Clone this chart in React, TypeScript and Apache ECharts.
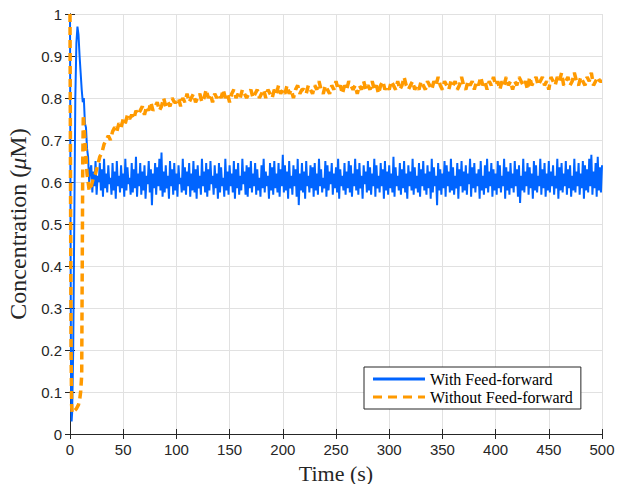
import React, { useEffect, useRef } from "react";
import * as echarts from "echarts";

// Transient part (time in s, concentration in µM)
const blueHeadT = [0, 0.5, 1, 1.5, 2, 3, 4, 5, 6, 7, 8, 9, 10, 11, 12, 13, 14, 15, 16, 17, 18, 19];
const blueHeadV = [1.0, 0.5, 0.1, 0.03, 0.05, 0.2, 0.5, 0.8, 0.93, 0.97, 0.95, 0.9, 0.86, 0.82, 0.79, 0.8, 0.74, 0.73, 0.68, 0.66, 0.6, 0.63];
const orangeHeadT = [0, 0.5, 1, 1.5, 2, 4, 6, 8, 9, 10, 11, 11.5, 12, 12.5, 13, 14, 15, 16, 17, 18, 19];
const orangeHeadV = [1.0, 0.6, 0.2, 0.07, 0.05, 0.055, 0.06, 0.07, 0.08, 0.1, 0.14, 0.4, 0.65, 0.76, 0.74, 0.7, 0.66, 0.62, 0.6, 0.58, 0.59];

// Steady part of "With Feed-forward", sampled every 1 s from t = 20 s to 500 s
const blueStart = 20;
const blueStep = 1;
const blueSteady = [
  0.640, 0.575, 0.625, 0.590, 0.650, 0.570, 0.615, 0.600, 0.645, 0.580,
  0.630, 0.565, 0.655, 0.585, 0.620, 0.575, 0.640, 0.595, 0.610, 0.570,
  0.645, 0.580, 0.625, 0.560, 0.650, 0.590, 0.615, 0.575, 0.640, 0.585,
  0.620, 0.565, 0.655, 0.580, 0.635, 0.595, 0.610, 0.570, 0.645, 0.575,
  0.630, 0.585, 0.660, 0.565, 0.620, 0.590, 0.645, 0.570, 0.625, 0.580,
  0.640, 0.560, 0.615, 0.595, 0.650, 0.575, 0.630, 0.545, 0.620, 0.585,
  0.645, 0.570, 0.635, 0.590, 0.655, 0.580, 0.670, 0.565, 0.625, 0.575,
  0.640, 0.585, 0.615, 0.560, 0.650, 0.590, 0.630, 0.570, 0.645, 0.580,
  0.620, 0.565, 0.640, 0.595, 0.610, 0.575, 0.655, 0.580, 0.635, 0.570,
  0.625, 0.590, 0.645, 0.565, 0.620, 0.580, 0.650, 0.575, 0.630, 0.560,
  0.640, 0.585, 0.615, 0.570, 0.655, 0.590, 0.625, 0.575, 0.645, 0.565,
  0.630, 0.580, 0.650, 0.595, 0.615, 0.570, 0.640, 0.585, 0.620, 0.560,
  0.645, 0.575, 0.635, 0.590, 0.610, 0.565, 0.655, 0.580, 0.625, 0.570,
  0.640, 0.590, 0.620, 0.575, 0.650, 0.560, 0.630, 0.585, 0.645, 0.570,
  0.615, 0.580, 0.655, 0.595, 0.625, 0.570, 0.640, 0.565, 0.635, 0.585,
  0.650, 0.575, 0.620, 0.590, 0.645, 0.570, 0.630, 0.580, 0.610, 0.565,
  0.640, 0.585, 0.655, 0.575, 0.625, 0.590, 0.615, 0.560, 0.645, 0.580,
  0.635, 0.570, 0.650, 0.585, 0.620, 0.575, 0.645, 0.565, 0.630, 0.590,
  0.665, 0.575, 0.640, 0.580, 0.625, 0.560, 0.650, 0.585, 0.615, 0.570,
  0.640, 0.590, 0.630, 0.565, 0.655, 0.545, 0.620, 0.580, 0.645, 0.575,
  0.625, 0.560, 0.650, 0.590, 0.615, 0.575, 0.640, 0.585, 0.635, 0.565,
  0.645, 0.580, 0.620, 0.570, 0.655, 0.590, 0.630, 0.575, 0.610, 0.585,
  0.650, 0.565, 0.640, 0.580, 0.625, 0.595, 0.645, 0.570, 0.620, 0.585,
  0.635, 0.575, 0.655, 0.560, 0.630, 0.590, 0.615, 0.580, 0.645, 0.570,
  0.625, 0.585, 0.650, 0.575, 0.640, 0.565, 0.620, 0.590, 0.655, 0.580,
  0.630, 0.570, 0.645, 0.585, 0.615, 0.560, 0.640, 0.595, 0.625, 0.575,
  0.650, 0.580, 0.635, 0.570, 0.620, 0.590, 0.655, 0.565, 0.640, 0.585,
  0.615, 0.575, 0.645, 0.590, 0.630, 0.560, 0.650, 0.580, 0.625, 0.570,
  0.640, 0.585, 0.620, 0.575, 0.660, 0.565, 0.635, 0.590, 0.615, 0.580,
  0.645, 0.570, 0.630, 0.585, 0.650, 0.575, 0.620, 0.560, 0.640, 0.590,
  0.625, 0.580, 0.655, 0.570, 0.635, 0.585, 0.615, 0.575, 0.645, 0.565,
  0.630, 0.590, 0.650, 0.580, 0.620, 0.570, 0.640, 0.585, 0.625, 0.560,
  0.655, 0.575, 0.635, 0.590, 0.615, 0.545, 0.645, 0.580, 0.630, 0.570,
  0.620, 0.585, 0.650, 0.565, 0.640, 0.590, 0.625, 0.575, 0.655, 0.580,
  0.635, 0.570, 0.615, 0.585, 0.645, 0.560, 0.630, 0.590, 0.650, 0.575,
  0.625, 0.580, 0.640, 0.570, 0.620, 0.595, 0.655, 0.565, 0.635, 0.585,
  0.645, 0.575, 0.620, 0.590, 0.630, 0.560, 0.650, 0.580, 0.615, 0.570,
  0.640, 0.585, 0.655, 0.575, 0.625, 0.590, 0.645, 0.565, 0.630, 0.580,
  0.620, 0.570, 0.650, 0.585, 0.640, 0.575, 0.615, 0.590, 0.655, 0.560,
  0.635, 0.580, 0.625, 0.570, 0.645, 0.585, 0.620, 0.575, 0.650, 0.590,
  0.630, 0.565, 0.640, 0.550, 0.615, 0.580, 0.655, 0.575, 0.625, 0.590,
  0.645, 0.570, 0.635, 0.585, 0.620, 0.560, 0.650, 0.580, 0.640, 0.575,
  0.615, 0.590, 0.655, 0.570, 0.630, 0.585, 0.645, 0.565, 0.620, 0.580,
  0.650, 0.575, 0.625, 0.590, 0.640, 0.570, 0.615, 0.585, 0.655, 0.560,
  0.635, 0.580, 0.645, 0.575, 0.620, 0.590, 0.650, 0.570, 0.630, 0.585,
  0.640, 0.565, 0.615, 0.580, 0.655, 0.575, 0.625, 0.590, 0.645, 0.570,
  0.620, 0.585, 0.650, 0.560, 0.640, 0.580, 0.630, 0.575, 0.655, 0.590,
  0.665, 0.570, 0.625, 0.585, 0.645, 0.565, 0.660, 0.580, 0.635, 0.575,
  0.640,
];

// Steady part of "Without Feed-forward", sampled every 2 s from t = 20 s to 500 s
const orangeStart = 20;
const orangeStep = 2;
const orangeSteady = [
  0.59, 0.61, 0.62, 0.64, 0.66, 0.67, 0.69, 0.70, 0.71, 0.70,
  0.72, 0.73, 0.72, 0.74, 0.73, 0.75, 0.74, 0.76, 0.75, 0.76,
  0.75, 0.77, 0.76, 0.77, 0.78, 0.76, 0.78, 0.77, 0.79, 0.77,
  0.78, 0.79, 0.77, 0.78, 0.80, 0.78, 0.79, 0.78, 0.80, 0.79,
  0.79, 0.80, 0.78, 0.80, 0.79, 0.81, 0.79, 0.80, 0.81, 0.79,
  0.80, 0.81, 0.79, 0.80, 0.82, 0.80, 0.81, 0.79, 0.81, 0.80,
  0.81, 0.80, 0.82, 0.80, 0.81, 0.79, 0.81, 0.82, 0.80, 0.81,
  0.80, 0.82, 0.81, 0.80, 0.81, 0.82, 0.80, 0.81, 0.82, 0.80,
  0.81, 0.82, 0.80, 0.82, 0.81, 0.80, 0.82, 0.81, 0.83, 0.81,
  0.82, 0.81, 0.83, 0.81, 0.82, 0.80, 0.82, 0.83, 0.81, 0.82,
  0.82, 0.81, 0.83, 0.82, 0.81, 0.83, 0.82, 0.84, 0.82, 0.81,
  0.83, 0.82, 0.81, 0.83, 0.82, 0.84, 0.82, 0.83, 0.81, 0.83,
  0.82, 0.84, 0.83, 0.82, 0.83, 0.81, 0.83, 0.82, 0.84, 0.82,
  0.83, 0.82, 0.84, 0.82, 0.83, 0.81, 0.83, 0.84, 0.82, 0.83,
  0.82, 0.84, 0.83, 0.82, 0.84, 0.82, 0.83, 0.85, 0.83, 0.82,
  0.83, 0.84, 0.82, 0.83, 0.82, 0.84, 0.83, 0.82, 0.84, 0.83,
  0.82, 0.84, 0.83, 0.85, 0.83, 0.82, 0.84, 0.83, 0.82, 0.84,
  0.83, 0.84, 0.82, 0.83, 0.85, 0.83, 0.82, 0.84, 0.83, 0.84,
  0.82, 0.84, 0.83, 0.85, 0.83, 0.84, 0.82, 0.84, 0.83, 0.85,
  0.83, 0.84, 0.82, 0.84, 0.83, 0.85, 0.83, 0.84, 0.82, 0.84,
  0.83, 0.85, 0.84, 0.83, 0.84, 0.82, 0.85, 0.83, 0.84, 0.85,
  0.83, 0.84, 0.85, 0.83, 0.84, 0.82, 0.85, 0.84, 0.83, 0.85,
  0.84, 0.86, 0.83, 0.84, 0.85, 0.83, 0.84, 0.86, 0.84, 0.83,
  0.85, 0.84, 0.83, 0.85, 0.84, 0.86, 0.83, 0.84, 0.85, 0.84,
  0.84,
];

const seriesNames = ["With Feed-forward", "Without Feed-forward"];
const xTicks = { min: 0, max: 500, interval: 50 };
const yTicks = { min: 0, max: 1, interval: 0.1 };

function buildSeries(headT: number[], headV: number[], steady: number[], start: number, step: number) {
  const pts: [number, number][] = headT.map((t, i) => [t, headV[i]]);
  steady.forEach((v, i) => pts.push([start + i * step, v]));
  return pts;
}

const BLUE = "#0064ff";
const ORANGE = "#ff9a00";

export default function App() {
  const ref = useRef<HTMLDivElement>(null);
  useEffect(() => {
    if (!ref.current) return;
    const chart = echarts.init(ref.current, undefined, { renderer: "svg" });
    const axisColor = "#262626";
    const labelFont = { fontFamily: "Liberation Sans, Arial, sans-serif", fontSize: 15, color: axisColor };
    const serif = "Liberation Serif, Times New Roman, serif";
    chart.setOption({
      animation: false,
      backgroundColor: "#ffffff",
      grid: { left: 70, right: 21, top: 14, bottom: 50, containLabel: false, outerBoundsMode: "none" },
      legend: {
        orient: "vertical",
        left: 364,
        top: 367,
        backgroundColor: "#ffffff",
        borderColor: "#262626",
        borderWidth: 1,
        borderRadius: 0,
        padding: [4, 8, 4, 9],
        itemWidth: 52,
        itemHeight: 3,
        itemGap: 2,
        symbolKeepAspect: false,
        textStyle: { fontFamily: serif, fontSize: 16, color: "#000" },
        data: [
          { name: seriesNames[0], icon: "path://M0,0H52V3H0Z", itemStyle: { color: BLUE } },
          {
            name: seriesNames[1],
            icon: "path://M0,0H9V3H0Z M15,0H24V3H15Z M30,0H39V3H30Z M45,0H52V3H45Z",
            itemStyle: { color: ORANGE },
          },
        ],
      },
      xAxis: [
        {
          type: "value",
          ...xTicks,
          name: "Time (s)",
          nameLocation: "middle",
          nameGap: 20,
          nameTextStyle: { fontFamily: serif, fontSize: 22, lineHeight: 24, color: axisColor },
          axisLine: { show: true, lineStyle: { color: axisColor, width: 1 } },
          axisTick: { show: true, inside: true, length: 5, lineStyle: { color: axisColor } },
          axisLabel: { ...labelFont, margin: 8 },
          splitLine: { show: true, lineStyle: { color: "#e1e1e1", width: 1 } },
        },
        {
          type: "value",
          position: "top",
          ...xTicks,
          axisLine: { show: true, lineStyle: { color: axisColor, width: 1 } },
          axisTick: { show: true, inside: true, length: 5, lineStyle: { color: axisColor } },
          axisLabel: { show: false },
          splitLine: { show: false },
        },
      ],
      yAxis: [
        {
          type: "value",
          ...yTicks,
          name: "{a|Concentration (}{b|μ}{a|M)}",
          nameLocation: "middle",
          nameGap: 30,
          nameTextStyle: {
            rich: {
              a: { fontFamily: serif, fontSize: 24, color: axisColor },
              b: { fontFamily: serif, fontSize: 24, fontStyle: "italic", color: axisColor },
            },
          },
          axisLine: { show: true, lineStyle: { color: axisColor, width: 1 } },
          axisTick: { show: true, inside: true, length: 5, lineStyle: { color: axisColor } },
          axisLabel: { ...labelFont, margin: 8 },
          splitLine: { show: true, lineStyle: { color: "#e1e1e1", width: 1 } },
        },
        {
          type: "value",
          position: "right",
          ...yTicks,
          axisLine: { show: true, lineStyle: { color: axisColor, width: 1 } },
          axisTick: { show: true, inside: true, length: 5, lineStyle: { color: axisColor } },
          axisLabel: { show: false },
          splitLine: { show: false },
        },
      ],
      series: [
        {
          name: seriesNames[0],
          type: "line",
          data: buildSeries(blueHeadT, blueHeadV, blueSteady, blueStart, blueStep),
          showSymbol: false,
          symbol: "none",
          lineStyle: { color: BLUE, width: 2 },
          itemStyle: { color: BLUE },
        },
        {
          name: seriesNames[1],
          type: "line",
          data: buildSeries(orangeHeadT, orangeHeadV, orangeSteady, orangeStart, orangeStep),
          showSymbol: false,
          symbol: "none",
          lineStyle: { color: ORANGE, width: 3.5, type: [8, 5] },
          itemStyle: { color: ORANGE },
        },
      ],
    });
    return () => chart.dispose();
  }, []);
  return (
    <div
      ref={ref}
      style={{ position: "absolute", left: 0, top: 0, width: 623, height: 484 }}
    />
  );
}
